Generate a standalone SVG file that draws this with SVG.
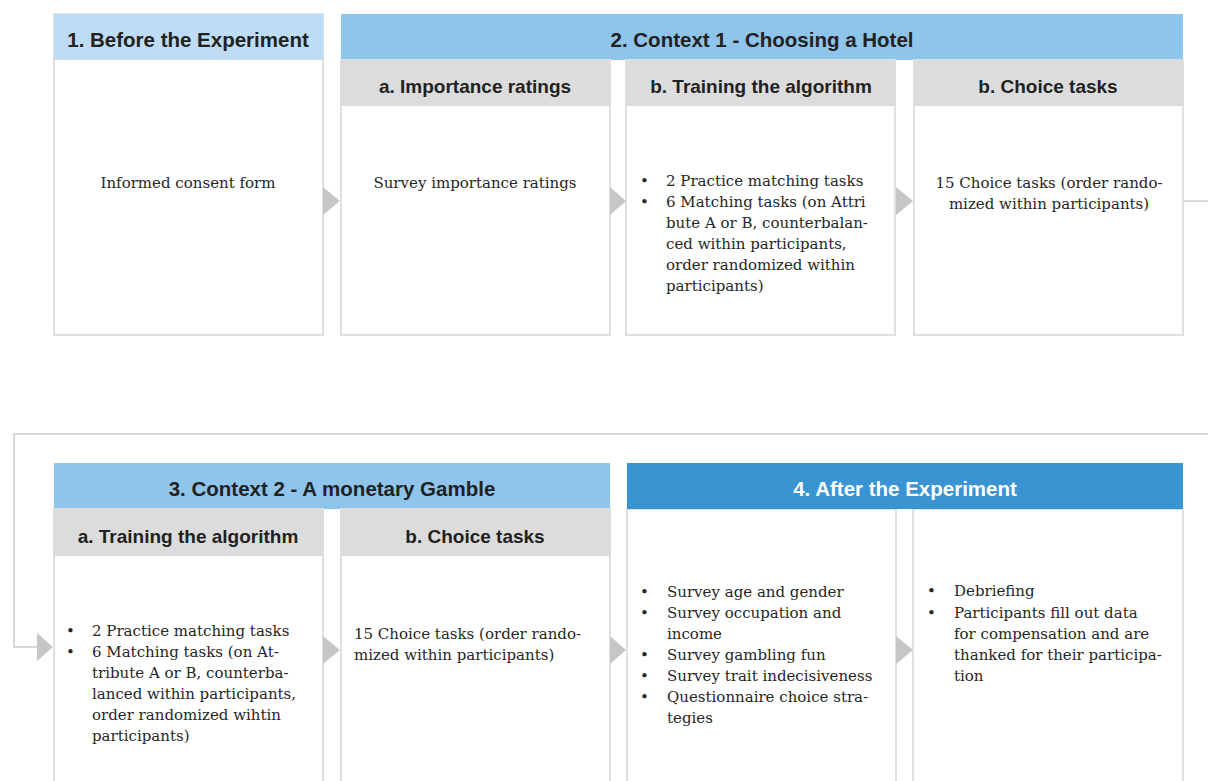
<svg xmlns="http://www.w3.org/2000/svg" width="1208" height="781" viewBox="0 0 1208 781">
  <style>
    .body { fill: #ffffff; stroke: #e0e0e0; stroke-width: 2; }
    .hdr-light { fill: #bedcf4; }
    .hdr-mid { fill: #8fc5eb; }
    .hdr-dark { fill: #3a94d2; }
    .hdr-grey { fill: #dcdcdc; }
    .h { font-family: "Liberation Sans", Arial, sans-serif; font-weight: bold; font-size: 20.5px; fill: #222222; text-anchor: middle; }
    .sub { font-size: 19px; }
    .h-white { fill: #ffffff; }
    .t { font-family: "DejaVu Serif", "Liberation Serif", serif; font-size: 15px; fill: #262626; }
    .c { text-anchor: middle; }
    .link { fill: none; stroke: #cccccc; stroke-width: 1.5; }
    .chev { fill: #c6c6c6; }
  </style>

  <!-- Row 1 -->
  <g id="before">
    <rect class="body" x="54" y="14" width="269" height="321"/>
    <rect class="hdr-light" x="54" y="14" width="269" height="46"/>
    <text class="h" x="188" y="47">1. Before the Experiment</text>
    <text class="t c" x="188" y="188">Informed consent form</text>
  </g>

  <g id="context1">
    <rect class="hdr-mid" x="341" y="14" width="842" height="46"/>
    <text class="h" x="762" y="47">2. Context 1 - Choosing a Hotel</text>
  </g>

  <g id="c1-importance">
    <rect class="body" x="341" y="60" width="269" height="275"/>
    <rect class="hdr-grey" x="341" y="60" width="269" height="46"/>
    <text class="h sub" x="475" y="93">a. Importance ratings</text>
    <text class="t c" x="475" y="188">Survey importance ratings</text>
  </g>

  <g id="c1-training">
    <rect class="body" x="626" y="60" width="269" height="275"/>
    <rect class="hdr-grey" x="626" y="60" width="269" height="46"/>
    <text class="h sub" x="761" y="93">b. Training the algorithm</text>
    <text class="t" x="640" y="186">•</text>
    <text class="t" x="666" y="186">2 Practice matching tasks</text>
    <text class="t" x="640" y="207">•</text>
    <text class="t" x="666" y="207">6 Matching tasks (on Attri</text>
    <text class="t" x="666" y="228">bute A or B, counterbalan-</text>
    <text class="t" x="666" y="249">ced within participants,</text>
    <text class="t" x="666" y="270">order randomized within</text>
    <text class="t" x="666" y="291">participants)</text>
  </g>

  <g id="c1-choice">
    <rect class="body" x="914" y="60" width="269" height="275"/>
    <rect class="hdr-grey" x="914" y="60" width="269" height="46"/>
    <text class="h sub" x="1048" y="93">b. Choice tasks</text>
    <text class="t c" x="1049" y="188">15 Choice tasks (order rando-</text>
    <text class="t c" x="1049" y="209">mized within participants)</text>
  </g>

  <!-- Row 2 -->
  <g id="context2">
    <rect class="hdr-mid" x="54" y="463" width="556" height="46"/>
    <text class="h" x="332" y="496">3. Context 2 - A monetary Gamble</text>
  </g>

  <g id="c2-training">
    <rect class="body" x="54" y="509" width="269" height="290"/>
    <rect class="hdr-grey" x="54" y="509" width="269" height="47"/>
    <text class="h sub" x="188" y="543">a. Training the algorithm</text>
    <text class="t" x="66" y="636">•</text>
    <text class="t" x="92" y="636">2 Practice matching tasks</text>
    <text class="t" x="66" y="657">•</text>
    <text class="t" x="92" y="657">6 Matching tasks (on At-</text>
    <text class="t" x="92" y="678">tribute A or B, counterba-</text>
    <text class="t" x="92" y="699">lanced within participants,</text>
    <text class="t" x="92" y="720">order randomized wihtin</text>
    <text class="t" x="92" y="741">participants)</text>
  </g>

  <g id="c2-choice">
    <rect class="body" x="341" y="509" width="269" height="290"/>
    <rect class="hdr-grey" x="341" y="509" width="269" height="47"/>
    <text class="h sub" x="475" y="543">b. Choice tasks</text>
    <text class="t" x="354" y="639">15 Choice tasks (order rando-</text>
    <text class="t" x="354" y="660">mized within participants)</text>
  </g>

  <g id="after">
    <rect class="body" x="627" y="509" width="269" height="290"/>
    <rect class="body" x="913" y="509" width="270" height="290"/>
    <rect class="hdr-dark" x="627" y="463" width="556" height="46"/>
    <text class="h h-white" x="905" y="496">4. After the Experiment</text>
  </g>

  <g id="after-surveys">
    <text class="t" x="640" y="597">•</text>
    <text class="t" x="667" y="597">Survey age and gender</text>
    <text class="t" x="640" y="618">•</text>
    <text class="t" x="667" y="618">Survey occupation and</text>
    <text class="t" x="667" y="639">income</text>
    <text class="t" x="640" y="660">•</text>
    <text class="t" x="667" y="660">Survey gambling fun</text>
    <text class="t" x="640" y="681">•</text>
    <text class="t" x="667" y="681">Survey trait indecisiveness</text>
    <text class="t" x="640" y="702">•</text>
    <text class="t" x="667" y="702">Questionnaire choice stra-</text>
    <text class="t" x="667" y="723">tegies</text>
  </g>

  <g id="after-debrief">
    <text class="t" x="927" y="596">•</text>
    <text class="t" x="954" y="596">Debriefing</text>
    <text class="t" x="927" y="618">•</text>
    <text class="t" x="954" y="618">Participants fill out data</text>
    <text class="t" x="954" y="639">for compensation and are</text>
    <text class="t" x="954" y="660">thanked for their participa-</text>
    <text class="t" x="954" y="681">tion</text>
  </g>

  <!-- Connectors: step chevrons and the wrap-around line between rows -->
  <g id="connectors">
    <polyline class="link" points="1184,201 1208,201"/>
    <polyline class="link" points="1208,434 14,434 14,647 37,647"/>
    <polygon class="chev" points="323,187 340,201 323,215"/>
    <polygon class="chev" points="610,187 626,201 610,215"/>
    <polygon class="chev" points="896,187 913,201 896,215"/>
    <polygon class="chev" points="37,633 53,647 37,661"/>
    <polygon class="chev" points="323,636 340,650 323,664"/>
    <polygon class="chev" points="610,636 626,650 610,664"/>
    <polygon class="chev" points="896,636 913,650 896,664"/>
  </g>
</svg>
